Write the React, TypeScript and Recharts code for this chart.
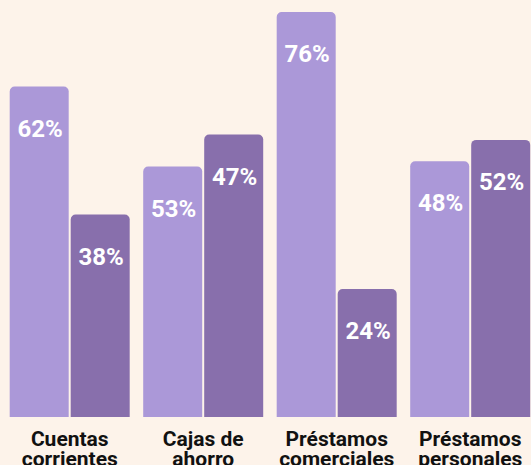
import { BarChart, Bar, XAxis, YAxis, LabelList } from 'recharts'

const categories = ['Cuentas corrientes', 'Cajas de ahorro', 'Préstamos comerciales', 'Préstamos personales']
const firstLines = ['Cuentas', 'Cajas de', 'Préstamos', 'Préstamos']
const secondLines = ['corrientes', 'ahorro', 'comerciales', 'personales']

// bar heights as drawn
const lightValues = [62, 47, 76, 48]
const darkValues = [38, 53, 24, 52]

// printed labels (the source swaps the second pair)
const lightLabels = ['62%', '53%', '76%', '48%']
const darkLabels = ['38%', '47%', '24%', '52%']

const LIGHT = '#ab98d8'
const DARK = '#886fac'
const BG = '#fdf3ea'

const data = categories.map((c, i) => ({
  name: c,
  light: lightValues[i],
  dark: darkValues[i],
}))

const makeLabel = (labels: string[]) => (props: any) => {
  const { x, y, width, index } = props
  return (
    <text
      x={x + width / 2 + 1}
      y={y + 50}
      textAnchor="middle"
      fill="#ffffff"
      fontSize={24}
      fontWeight={700}
      fontFamily="Roboto, sans-serif"
    >
      {labels[index]}
    </text>
  )
}

const CategoryTick = (props: any) => {
  const { x, y, index } = props
  return (
    <g>
      <text x={x} y={y + 29} textAnchor="middle" fill="#111111" fontSize={21} fontWeight={700} fontFamily="Roboto, sans-serif">
        {firstLines[index]}
      </text>
      <text x={x} y={y + 49} textAnchor="middle" fill="#111111" fontSize={21} fontWeight={700} fontFamily="Roboto, sans-serif">
        {secondLines[index]}
      </text>
    </g>
  )
}

export default function App() {
  return (
    <div style={{ position: 'absolute', left: 0, top: 0, width: 531, height: 465, overflow: 'hidden', background: BG }}>
      <BarChart
        width={540}
        height={465}
        data={data}
        margin={{ top: 12, right: 3, bottom: 0, left: 3 }}
        barCategoryGap={6.7}
        barGap={2}
      >
        <XAxis
          dataKey="name"
          axisLine={false}
          tickLine={false}
          tickSize={0}
          tickMargin={0}
          height={48}
          interval={0}
          tick={<CategoryTick />}
        />
        <YAxis hide domain={[0, 76]} />
        <Bar dataKey="light" fill={LIGHT} radius={[5, 5, 0, 0]} isAnimationActive={false}>
          <LabelList dataKey="light" content={makeLabel(lightLabels)} />
        </Bar>
        <Bar dataKey="dark" fill={DARK} radius={[5, 5, 0, 0]} isAnimationActive={false}>
          <LabelList dataKey="dark" content={makeLabel(darkLabels)} />
        </Bar>
      </BarChart>
    </div>
  )
}
